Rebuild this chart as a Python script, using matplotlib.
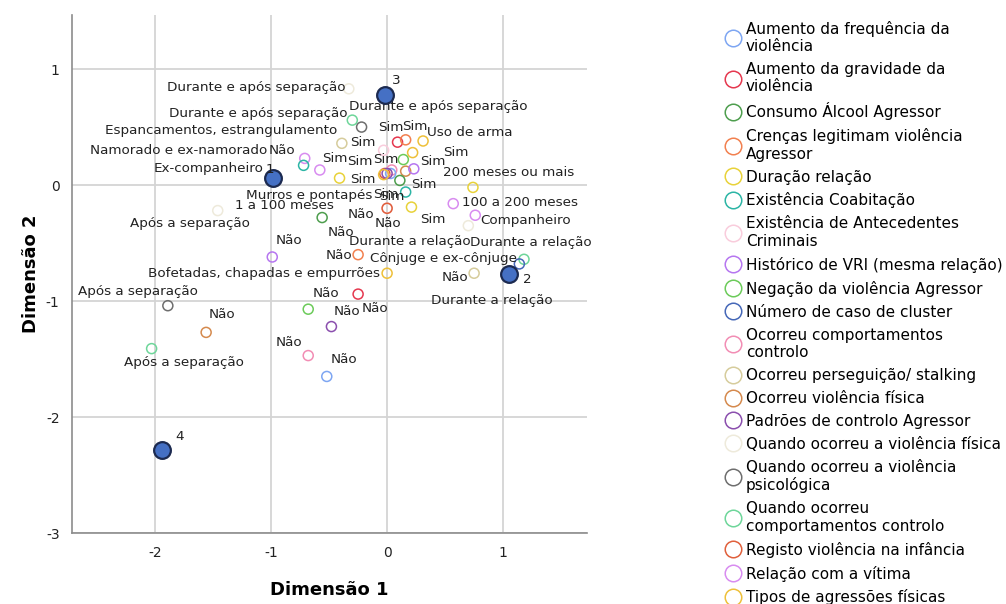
import numpy as np
import matplotlib.pyplot as plt
from matplotlib.lines import Line2D

plt.rcParams['font.family'] = 'DejaVu Sans'
plt.rcParams['axes.unicode_minus'] = False

# variáveis (ordem da legenda)
variaveis = [
    'Aumento da frequência da\nviolência',
    'Aumento da gravidade da\nviolência',
    'Consumo Álcool Agressor',
    'Crenças legitimam violência\nAgressor',
    'Duração relação',
    'Existência Coabitação',
    'Existência de Antecedentes\nCriminais',
    'Histórico de VRI (mesma relação)',
    'Negação da violência Agressor',
    'Número de caso de cluster',
    'Ocorreu comportamentos\ncontrolo',
    'Ocorreu perseguição/ stalking',
    'Ocorreu violência física',
    'Padrões de controlo Agressor',
    'Quando ocorreu a violência física',
    'Quando ocorreu a violência\npsicológica',
    'Quando ocorreu\ncomportamentos controlo',
    'Registo violência na infância',
    'Relação com a vítima',
    'Tipos de agressões físicas',
]
cores = ['#7ea6f2', '#e5384f', '#4e9e4e', '#f2804f', '#e8d23a',
         '#2cb5a5', '#f9ccdc', '#b676f0', '#6ccb5a', '#4668b8',
         '#f28db4', '#d6cc9c', '#d58a4e', '#8b4fae', '#eeeadb',
         '#6e6e6e', '#6ed69a', '#e0603c', '#d88cf0', '#eec03a']

# categorias (indice da variavel, rotulo, dim 1, dim 2)
cat_var = [14, 16, 15, 11, 1, 3, 19, 6, 18, 5, 18, 19, 8, 12, 7, 2, 17, 10, 0, 13,
           19, 4, 5, 6, 17, 4, 18, 4, 18, 14, 16, 9, 11, 19, 2, 7, 3, 1, 8, 13,
           12, 10, 0, 14, 15, 16]
cat_lab = ['Durante e após separação', 'Durante e após separação', 'Durante e após separação',
           'Sim', 'Sim', 'Sim', 'Uso de arma', 'Sim', 'Namorado e ex-namorado', 'Não',
           'Ex-companheiro', 'Espancamentos, estrangulamento', 'Sim', 'Sim', 'Sim', 'Sim',
           'Sim', 'Sim', 'Sim', 'Sim', 'Murros e pontapés', '1 a 100 meses', 'Sim', 'Não',
           'Não', '100 a 200 meses', 'Cônjuge e ex-cônjuge', '200 meses ou mais', 'Companheiro',
           'Durante a relação', 'Durante a relação', 'Durante a relação', 'Não',
           'Bofetadas, chapadas e empurrões', 'Não', 'Não', 'Não', 'Não', 'Não', 'Não',
           'Não', 'Não', 'Não', 'Após a separação', 'Após a separação', 'Após a separação']
dim1 = [-0.33, -0.30, -0.22, -0.39, 0.09, 0.16, 0.31, -0.03, -0.71, -0.72,
        -0.58, 0.22, 0.14, 0.16, 0.23, 0.11, -0.02, 0.04, 0.03, 0.00,
        -0.03, -0.41, 0.16, 0.00, 0.00, 0.21, 0.57, 0.74, 0.76, 0.70,
        1.18, 1.14, 0.75, 0.00, -0.56, -0.99, -0.25, -0.25, -0.68, -0.48,
        -1.56, -0.68, -0.52, -1.46, -1.89, -2.03]
dim2 = [0.83, 0.56, 0.50, 0.36, 0.37, 0.39, 0.38, 0.30, 0.23, 0.17,
        0.13, 0.28, 0.22, 0.12, 0.14, 0.04, 0.10, 0.13, 0.10, 0.10,
        0.09, 0.06, -0.06, -0.20, -0.20, -0.19, -0.16, -0.02, -0.26, -0.35,
        -0.64, -0.68, -0.76, -0.76, -0.28, -0.62, -0.60, -0.94, -1.07, -1.22,
        -1.27, -1.47, -1.65, -0.22, -1.04, -1.41]

# centros dos clusters
clus_lab = ['1', '2', '3', '4']
clus_d1 = [-0.98, 1.05, -0.02, -1.94]
clus_d2 = [0.06, -0.77, 0.78, -2.28]

# posicao dos rotulos (pixels: dx, dy, alinhamento)
lab_pos = [(-3, 1, 'right'), (-5, 7, 'right'), (-13, 21, 'left'), (8, 1, 'left'),
           (-19, 15, 'left'), (-4, 13, 'left'), (4, 8, 'left'), (-10, -9, 'left'),
           (-37, 8, 'right'), (-8, 15, 'right'), (-56, 1, 'right'), (-75, 22, 'right'),
           (17, -2, 'left'), (5, -13, 'left'), (29, 16, 'left'), (-21, -16, 'left'),
           (-38, 12, 'left'), (-70, 11, 'left'), (-17, -21, 'left'), (-37, -6, 'left'),
           (-11, -21, 'right'), (-6, -27, 'right'), (14, -27, 'left'), (-39, -6, 'left'),
           (-12, -15, 'left'), (51, 5, 'left'), (-83, -55, 'left'), (-30, 15, 'left'),
           (5, -5, 'left'), (2, -16, 'right'), (-54, 17, 'left'), (-88, -37, 'left'),
           (-32, -4, 'left'), (-7, 0, 'right'), (5, -15, 'left'), (3, 16, 'left'),
           (-6, -1, 'right'), (4, -14, 'left'), (4, 16, 'left'), (2, 15, 'left'),
           (2, 18, 'left'), (-6, 13, 'right'), (4, 17, 'left'), (-88, -13, 'left'),
           (-90, 14, 'left'), (-28, -14, 'left')]
clus_pos = [(-8, 9), (14, -5), (7, 14), (13, 13)]

fig = plt.figure(figsize=(10.06, 6.04), dpi=100)
ax = fig.add_axes([0.0716, 0.1175, 0.512, 0.8576])

for i in range(len(dim1)):
    ax.scatter(dim1[i], dim2[i], s=52, facecolors='none',
               edgecolors=cores[cat_var[i]], linewidths=1.1, zorder=3)
    dx, dy, ha = lab_pos[i]
    ax.annotate(cat_lab[i], (dim1[i], dim2[i]), xytext=(dx, dy),
                textcoords='offset pixels', ha=ha, va='center',
                fontsize=9.7, color='#222222', zorder=4)

ax.scatter(clus_d1, clus_d2, s=145, color='#4570c4', edgecolors='#1c2a50',
           linewidths=1.6, zorder=5)
for i in range(len(clus_lab)):
    ax.annotate(clus_lab[i], (clus_d1[i], clus_d2[i]), xytext=clus_pos[i],
                textcoords='offset pixels', ha='left', va='center',
                fontsize=9.7, color='#222222', zorder=6)

ax.set_xlim(-2.716, 1.724)
ax.set_ylim(-3, 1.466)
ax.set_xticks([-2, -1, 0, 1])
ax.set_yticks([-3, -2, -1, 0, 1])
ax.grid(True, color='#d4d4d4', linewidth=1.3)
ax.set_axisbelow(True)
for s in ['top', 'right']:
    ax.spines[s].set_visible(False)
for s in ['left', 'bottom']:
    ax.spines[s].set_color('#8c8c8c')
    ax.spines[s].set_linewidth(1.2)
ax.tick_params(length=0, labelsize=10, colors='#222222', pad=9)

ax.set_xlabel('Dimensão 1', fontsize=13, fontweight='bold')
ax.set_ylabel('Dimensão 2', fontsize=13, fontweight='bold')
ax.xaxis.set_label_coords(0.5, -0.093)
ax.yaxis.set_label_coords(-0.062, 0.5)

handles = [Line2D([], [], ls='none', marker='o', mfc='none', mec=c, ms=11.9, mew=1.1)
           for c in cores]
leg = fig.legend(handles, variaveis, loc='upper left', bbox_to_anchor=(0.721, 0.966),
                 frameon=False, fontsize=11, handlelength=1.0, handletextpad=0.35,
                 labelspacing=0.52, borderpad=0, borderaxespad=0)
for t in leg.get_texts():
    t.set_linespacing(1.2)

fig.savefig('out.png', dpi=100)
